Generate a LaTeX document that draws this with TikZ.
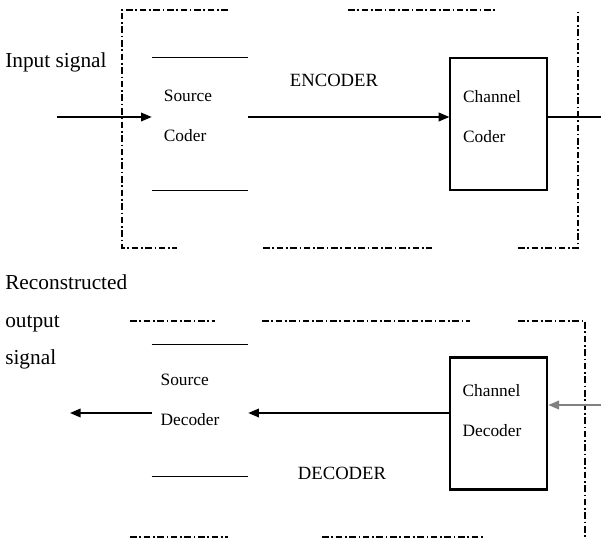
\documentclass[tikz,border=0pt]{standalone}
\usepackage{fontspec}
\setmainfont{Liberation Serif}
\usetikzlibrary{arrows.meta}

\begin{document}
\begin{tikzpicture}[x=0.75pt,y=0.75pt,yscale=-1,xscale=1,
  open/.style={minimum width=72pt,minimum height=99pt,inner sep=0pt},
  block/.style={draw,line width=0.9pt,minimum width=72.75pt,minimum height=99pt,inner sep=0pt},
  blocktxt/.style={font=\fontsize{13}{30}\selectfont,align=left,inner sep=0pt},
  lbl/.style={font=\fontsize{14}{28}\selectfont,inner sep=0pt},
  sig/.style={line width=1.1pt,-{Triangle[length=8pt,width=6.5pt]}},
  frame/.style={line width=0.9pt,dash pattern=on 5pt off 2pt on 1.2pt off 2pt}]
\useasboundingbox (0,0) rectangle (601,539);

%Shape: Frame [id:encoder]
\draw[frame] (228,10) -- (122,10) -- (122,248) -- (177,248);
\draw[frame] (348,10) -- (495,10);
\draw[frame] (263,248) -- (432,248);
\draw[frame] (518,248) -- (578,248) -- (578,12);
%Shape: Frame [id:decoder]
\draw[frame] (130,321) -- (215,321);
\draw[frame] (262,321) -- (470,321);
\draw[frame] (518,321) -- (585,321) -- (585,537);
\draw[frame] (130,537) -- (228,537);
\draw[frame] (322,537) -- (485,537);

%Shape: Blocks
\node[open] (srccod) at (200,124) {};
\draw[line width=0.9pt] (srccod.north west) -- (srccod.north east) (srccod.south west) -- (srccod.south east);
\node[block] (chcod) at (498.5,124) {};
\node[open] (srcdec) at (200,410.5) {};
\draw[line width=0.9pt] (srcdec.north west) -- (srcdec.north east) (srcdec.south west) -- (srcdec.south east);
\node[block,line width=2pt] (chdec) at (498.5,423.5) {};

% Text Node
\node[blocktxt] (srccodtxt) at (188,116) {Source\\Coder};
% Text Node
\node[blocktxt] (chcodtxt) at (492,117) {Channel\\Coder};
% Text Node
\node[blocktxt] (srcdectxt) at (190,400) {Source\\Decoder};
% Text Node
\node[blocktxt] (chdectxt) at (492,411) {Channel\\Decoder};
% Text Node
\node[lbl,anchor=west,font=\fontsize{16}{28}\selectfont] (inlbl) at (5,62) {Input signal};
% Text Node
\node[lbl,anchor=west,align=left,font=\fontsize{16}{28}\selectfont] (outlbl) at (5,322) {Reconstructed\\output\\signal};
% Text Node
\node[lbl] (enclbl) at (334,80) {ENCODER};
% Text Node
\node[lbl] (declbl) at (342,473) {DECODER};

%Straight Lines
\coordinate (insig) at (57,117);
\coordinate (outenc) at (601,117);
\draw[sig] (insig) -- (srccod.west |- insig);
\draw[sig] (srccod.east |- insig) -- (chcod.west |- insig);
\draw[line width=1.1pt] (chcod.east |- outenc) -- (outenc);
%Straight Lines
\coordinate (indec) at (601,405);
\coordinate (outsig) at (70,413);
\draw[sig,gray] (indec) -- (chdec.east |- indec);
\draw[sig] (chdec.west |- outsig) -- (srcdec.east |- outsig);
\draw[sig] (srcdec.west |- outsig) -- (outsig);

\end{tikzpicture}
\end{document}
